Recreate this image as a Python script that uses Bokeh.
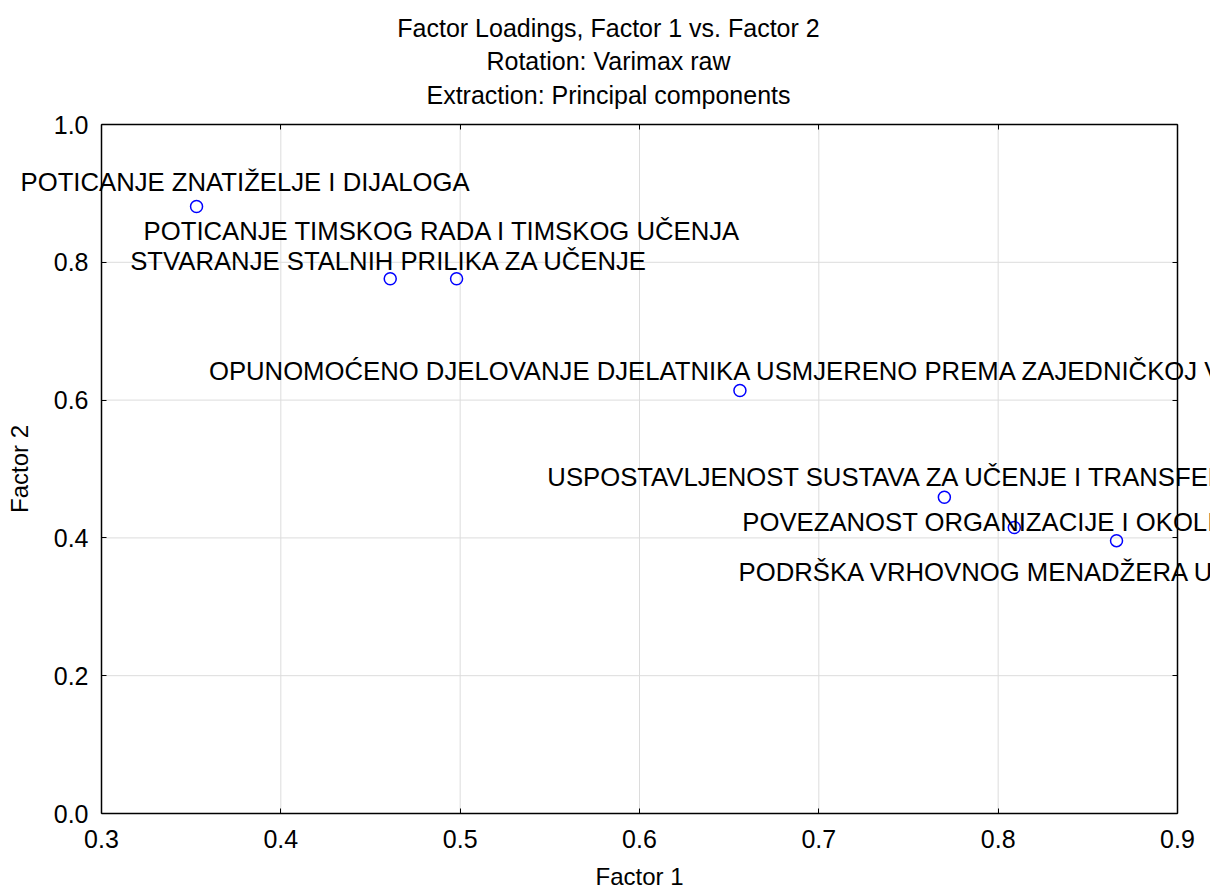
from bokeh.plotting import figure
from bokeh.models import (Label, LinearAxis, FixedTicker, Range1d, NumeralTickFormatter)
from bokeh.embed import file_html
from bokeh.resources import INLINE

# ---- data ----
factor1 = [0.353, 0.461, 0.498, 0.656, 0.770, 0.809, 0.866]
factor2 = [0.881, 0.776, 0.776, 0.614, 0.459, 0.415, 0.396]
names = [
    "POTICANJE ZNATIŽELJE I DIJALOGA",
    "STVARANJE STALNIH PRILIKA ZA UČENJE",
    "POTICANJE TIMSKOG RADA I TIMSKOG UČENJA",
    "OPUNOMOĆENO DJELOVANJE DJELATNIKA USMJERENO PREMA ZAJEDNIČKOJ VIZIJI",
    "USPOSTAVLJENOST SUSTAVA ZA UČENJE I TRANSFERA ZNANJA",
    "POVEZANOST ORGANIZACIJE I OKOLINE",
    "PODRŠKA VRHOVNOG MENADŽERA U UČENJU",
]
x_ticks = [0.3, 0.4, 0.5, 0.6, 0.7, 0.8, 0.9]
y_ticks = [0.0, 0.2, 0.4, 0.6, 0.8, 1.0]
title_lines = ["Factor Loadings, Factor 1 vs. Factor 2",
               "Rotation: Varimax raw",
               "Extraction: Principal components"]

# ---- layout (pixels) ----
W, H = 1210, 894                   # canvas
BOX_L, BOX_R, BOX_T, BOX_B = 101, 1177, 124, 813   # the axes box
X0, X1, Y0, Y1 = 0.3, 0.9, 0.0, 1.0                 # axis limits
label_dx = [-176, -260, -313, -531, -397, -272, -378]
label_dy = [24, 18, 48, 19, 20, 6, -31]
title_cx = 608
title_cy = [27, 60, 94]

FONT = "Liberation Sans"
sx = (X1 - X0) / (BOX_R - BOX_L)
sy = (Y1 - Y0) / (BOX_B - BOX_T)

# the frame covers the whole canvas so that labels may run past the axes box
p = figure(width=W, height=H, output_backend="svg", toolbar_location=None,
           x_range=Range1d(X0 - BOX_L * sx, X1 + (W - BOX_R) * sx),
           y_range=Range1d(Y0 - (H - BOX_B) * sy, Y1 + BOX_T * sy),
           x_axis_location=None, y_axis_location=None, title=None,
           min_border=0, min_border_left=0, min_border_right=0,
           min_border_top=0, min_border_bottom=0)
p.background_fill_color = "white"
p.border_fill_color = "white"
p.outline_line_color = None
p.grid.visible = False

# grid lines, limited to the axes box
p.segment(x0=x_ticks, y0=[Y0] * len(x_ticks), x1=x_ticks, y1=[Y1] * len(x_ticks),
          line_color="#dcdcdc", line_width=1)
p.segment(x0=[X0] * len(y_ticks), y0=y_ticks, x1=[X1] * len(y_ticks), y1=y_ticks,
          line_color="#dcdcdc", line_width=1)

# axes forming the box
common = dict(major_tick_in=5, major_tick_out=0, minor_tick_line_color=None,
              axis_line_color="black", axis_line_width=1.5,
              major_tick_line_color="black")
labelled = dict(major_label_text_font=FONT, major_label_text_font_size="25px",
                major_label_text_color="black", axis_label_text_font=FONT,
                axis_label_text_font_size="24px", axis_label_text_font_style="normal",
                axis_label_text_color="black", formatter=NumeralTickFormatter(format="0.0"))

xaxis = LinearAxis(fixed_location=Y0, bounds=(X0, X1), ticker=FixedTicker(ticks=x_ticks),
                   axis_label="Factor 1", major_label_standoff=16, axis_label_standoff=12,
                   **common, **labelled)
yaxis = LinearAxis(fixed_location=X0, bounds=(Y0, Y1), ticker=FixedTicker(ticks=y_ticks),
                   axis_label="Factor 2", major_label_standoff=13, axis_label_standoff=18,
                   **common, **labelled)
top = LinearAxis(fixed_location=Y1, bounds=(X0, X1), ticker=FixedTicker(ticks=x_ticks),
                 major_label_overrides={t: "" for t in x_ticks}, **common)
right = LinearAxis(fixed_location=X1, bounds=(Y0, Y1), ticker=FixedTicker(ticks=y_ticks),
                   major_label_overrides={t: "" for t in y_ticks}, **common)
p.add_layout(xaxis, "below")
p.add_layout(yaxis, "left")
p.add_layout(top, "above")
p.add_layout(right, "right")

# title lines
for t, cy in zip(title_lines, title_cy):
    p.add_layout(Label(x=X0 + (title_cx - BOX_L) * sx, y=Y1 + (BOX_T - cy) * sy, text=t,
                       text_font=FONT, text_font_size="25px", text_color="black",
                       text_align="center", text_baseline="middle"))

# points
p.scatter(factor1, factor2, marker="circle", size=12, fill_color=None,
          line_color="#0000ff", line_width=1.5)

# point labels
for xv, yv, nm, dx, dy in zip(factor1, factor2, names, label_dx, label_dy):
    p.add_layout(Label(x=xv, y=yv, text=nm, x_offset=dx, y_offset=dy,
                       text_font=FONT, text_font_size="25.7px", text_color="black",
                       text_align="left", text_baseline="middle"))

open("out.html", "w").write(file_html(p, INLINE))
